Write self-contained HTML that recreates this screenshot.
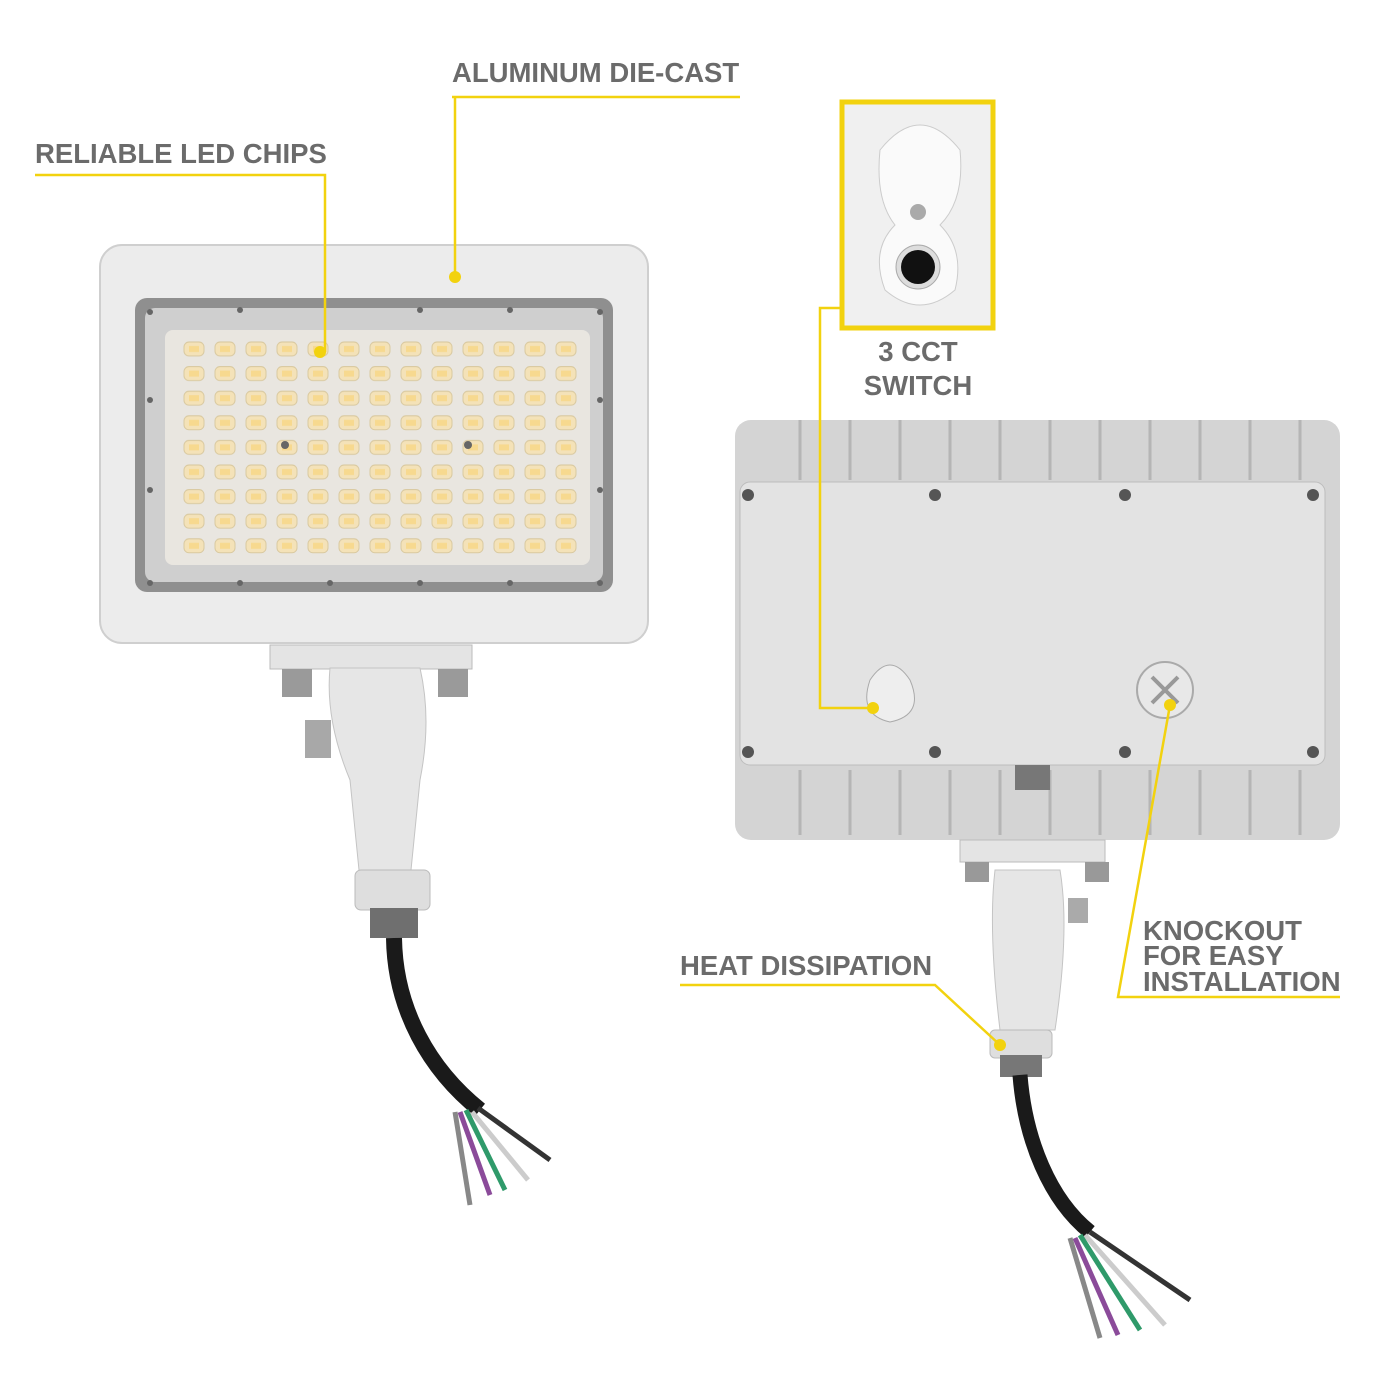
<!DOCTYPE html>
<html><head><meta charset="utf-8"><style>
html,body{margin:0;padding:0;background:#fff}
svg{display:block}
text{font-family:"Liberation Sans",sans-serif;font-weight:bold;fill:#6b6b6b;font-size:27.5px}
</style></head><body>
<svg width="1400" height="1400" viewBox="0 0 1400 1400" xmlns="http://www.w3.org/2000/svg">
<defs>
<pattern id="leds" x="180" y="338" width="31" height="24.6" patternUnits="userSpaceOnUse">
<rect x="4" y="4" width="20" height="14" rx="5" fill="#f4e2b8" stroke="#d9c9a0" stroke-width="1"/>
<rect x="9" y="8" width="10" height="6" fill="#f7d98f"/>
</pattern>
</defs>
<rect x="100" y="245" width="548" height="398" rx="22" fill="#ececec" stroke="#cfcfcf" stroke-width="2"/>
<rect x="135" y="298" width="478" height="294" rx="12" fill="#8f8f8f"/>
<rect x="145" y="308" width="458" height="274" rx="10" fill="#cfcfcf"/>
<rect x="165" y="330" width="425" height="235" rx="8" fill="#e9e6e0"/>
<rect x="178" y="338" width="403" height="222" fill="url(#leds)"/>
<g fill="#666">
<circle cx="240" cy="310" r="3"/><circle cx="420" cy="310" r="3"/><circle cx="510" cy="310" r="3"/><circle cx="150" cy="312" r="3"/><circle cx="600" cy="312" r="3"/>
<circle cx="150" cy="400" r="3"/><circle cx="600" cy="400" r="3"/><circle cx="150" cy="490" r="3"/><circle cx="600" cy="490" r="3"/>
<circle cx="240" cy="583" r="3"/><circle cx="330" cy="583" r="3"/><circle cx="420" cy="583" r="3"/><circle cx="510" cy="583" r="3"/><circle cx="150" cy="583" r="3"/><circle cx="600" cy="583" r="3"/>
<circle cx="285" cy="445" r="4"/><circle cx="468" cy="445" r="4"/>
</g>
<rect x="270" y="645" width="202" height="24" fill="#e4e4e4" stroke="#bbb"/>
<rect x="282" y="669" width="30" height="28" fill="#9a9a9a"/><rect x="438" y="669" width="30" height="28" fill="#9a9a9a"/>
<rect x="305" y="720" width="26" height="38" fill="#a8a8a8"/>
<path d="M330 668 H420 Q432 720 420 780 L410 880 H360 L350 780 Q325 720 330 668Z" fill="#e6e6e6" stroke="#c4c4c4"/>
<rect x="355" y="870" width="75" height="40" rx="6" fill="#dedede" stroke="#bbb"/>
<rect x="370" y="908" width="48" height="30" fill="#6f6f6f"/>
<path d="M394 938 C395 1010 430 1070 480 1110" stroke="#1a1a1a" stroke-width="16" fill="none"/>
<g stroke-width="5" fill="none">
<path d="M478 1108 L550 1160" stroke="#333"/><path d="M472 1112 L528 1180" stroke="#ccc"/><path d="M466 1110 L505 1190" stroke="#2f9a6a"/><path d="M460 1112 L490 1195" stroke="#8b4b9a"/><path d="M455 1112 L470 1205" stroke="#888"/>
</g>
<rect x="842" y="102" width="151" height="226" fill="#f0f0f0" stroke="#f2d20f" stroke-width="5"/>
<path d="M880 150 Q920 100 960 150 Q965 200 940 225 Q965 250 955 290 Q920 320 885 290 Q870 250 895 225 Q875 200 880 150Z" fill="#fafafa" stroke="#ccc"/>
<circle cx="918" cy="212" r="8" fill="#aaa"/>
<circle cx="918" cy="267" r="22" fill="#ddd" stroke="#aaa"/>
<circle cx="918" cy="267" r="17" fill="#111"/>
<text x="918" y="361" text-anchor="middle">3 CCT</text>
<text x="918" y="395" text-anchor="middle">SWITCH</text>
<rect x="735" y="420" width="605" height="420" rx="16" fill="#d4d4d4"/>
<g stroke="#b5b5b5" stroke-width="3">
<path d="M800 420V480M850 420V480M900 420V480M950 420V480M1000 420V480M1050 420V480M1100 420V480M1150 420V480M1200 420V480M1250 420V480M1300 420V480"/>
<path d="M800 770V835M850 770V835M900 770V835M950 770V835M1000 770V835M1050 770V835M1100 770V835M1150 770V835M1200 770V835M1250 770V835M1300 770V835"/>
</g>
<rect x="740" y="482" width="585" height="283" rx="10" fill="#e3e3e3" stroke="#bdbdbd"/>
<g fill="#555"><circle cx="748" cy="495" r="6"/><circle cx="935" cy="495" r="6"/><circle cx="1125" cy="495" r="6"/><circle cx="1313" cy="495" r="6"/><circle cx="748" cy="752" r="6"/><circle cx="935" cy="752" r="6"/><circle cx="1125" cy="752" r="6"/><circle cx="1313" cy="752" r="6"/></g>
<path d="M870 680 Q890 650 910 680 Q925 715 890 722 Q858 715 870 680Z" fill="#eee" stroke="#aaa"/>
<circle cx="1165" cy="690" r="28" fill="#e8e8e8" stroke="#aaa" stroke-width="2"/>
<path d="M1152 677L1178 703M1178 677L1152 703" stroke="#999" stroke-width="4"/>
<rect x="1015" y="765" width="35" height="25" fill="#777"/>
<rect x="960" y="840" width="145" height="22" fill="#e4e4e4" stroke="#bbb"/>
<rect x="965" y="862" width="24" height="20" fill="#999"/><rect x="1085" y="862" width="24" height="20" fill="#999"/>
<rect x="1068" y="898" width="20" height="25" fill="#aaa"/>
<path d="M995 870 H1060 Q1070 930 1055 1030 H1000 Q988 930 995 870Z" fill="#e6e6e6" stroke="#c4c4c4"/>
<rect x="990" y="1030" width="62" height="28" rx="5" fill="#dedede" stroke="#bbb"/>
<rect x="1000" y="1055" width="42" height="22" fill="#777"/>
<path d="M1020 1075 C1025 1140 1050 1200 1090 1232" stroke="#1a1a1a" stroke-width="15" fill="none"/>
<g stroke-width="5" fill="none">
<path d="M1090 1232 L1190 1300" stroke="#333"/><path d="M1085 1235 L1165 1325" stroke="#ccc"/><path d="M1080 1235 L1140 1330" stroke="#2f9a6a"/><path d="M1075 1238 L1118 1335" stroke="#8b4b9a"/><path d="M1070 1238 L1100 1338" stroke="#888"/>
</g>
<g stroke="#f2d20f" stroke-width="2.5" fill="none">
<path d="M452 97 H740 M455 97 V275"/>
<path d="M35 175 H325 V352"/>
<path d="M840 308 H820 V708 H873"/>
<path d="M1340 997 H1118 L1170 705"/>
<path d="M680 985 H935 L1000 1045"/>
</g>
<g fill="#f2d20f"><circle cx="455" cy="277" r="6"/><circle cx="320" cy="352" r="6"/><circle cx="873" cy="708" r="6"/><circle cx="1170" cy="705" r="6"/><circle cx="1000" cy="1045" r="6"/></g>
<text x="452" y="82">ALUMINUM DIE-CAST</text>
<text x="35" y="163">RELIABLE LED CHIPS</text>
<text x="680" y="975">HEAT DISSIPATION</text>
<text x="1143" y="940">KNOCKOUT</text>
<text x="1143" y="965">FOR EASY</text>
<text x="1143" y="991">INSTALLATION</text>
</svg>
</body></html>
